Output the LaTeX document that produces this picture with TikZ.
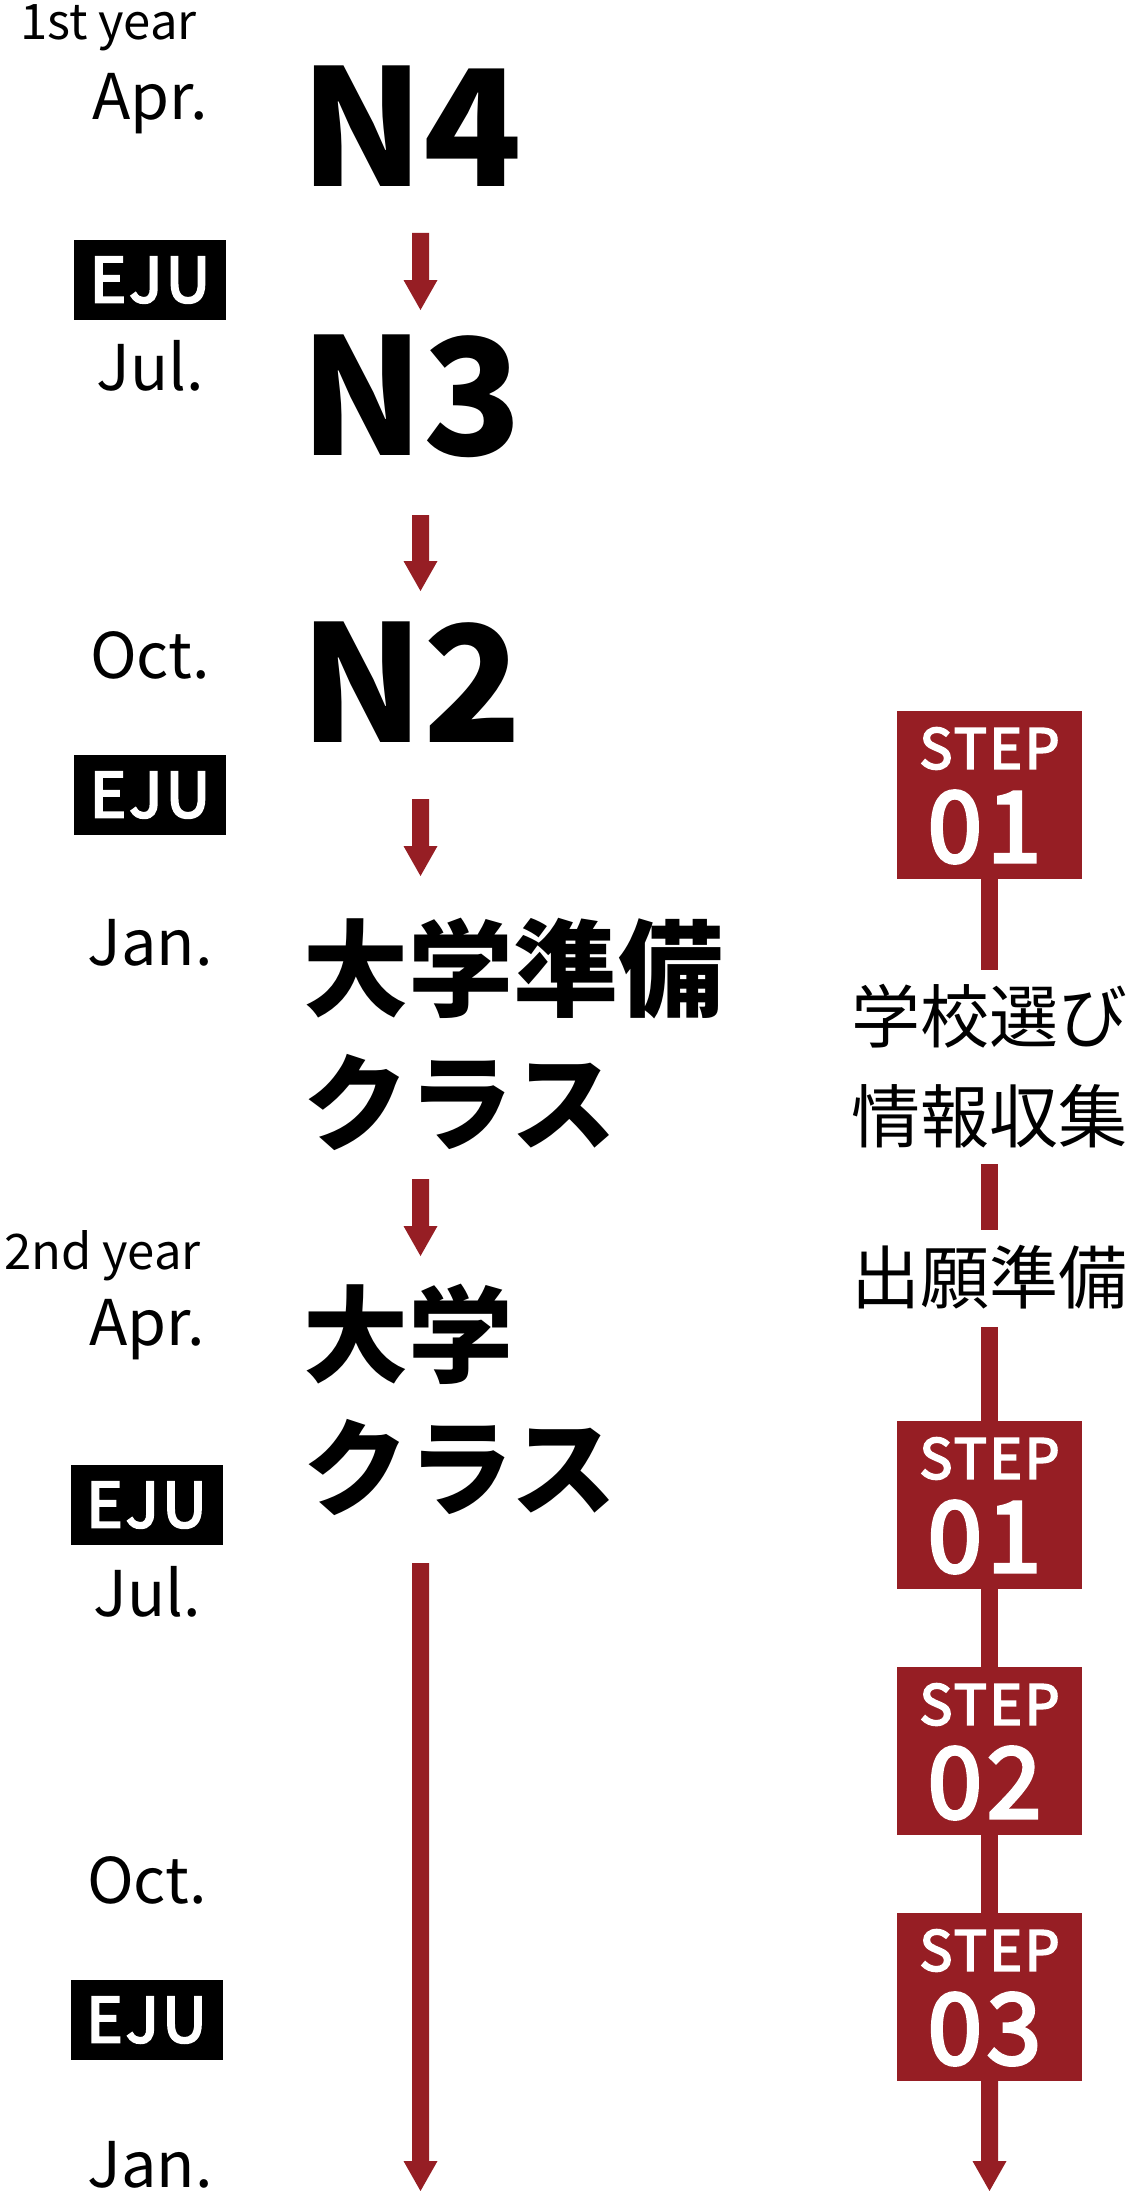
\documentclass[tikz,border=0pt]{standalone}
\usepackage{fontspec}
\setmainfont{Noto Sans CJK JP}
\newfontfamily\semifont{Noto Sans CJK JP}[FakeBold=3.5,LetterSpace=5]
\usetikzlibrary{calc}
\definecolor{brandred}{RGB}{150,30,36}
\tikzset{
 month/.style={anchor=base, inner sep=0pt, font=\fontsize{63}{63}\selectfont},
 yearlbl/.style={anchor=base east, inner sep=0pt, font=\fontsize{49}{49}\selectfont},
 ejubox/.style={fill=black, text=white, minimum width=152pt, minimum height=80pt, inner sep=0pt, font=\semifont\fontsize{62}{62}\selectfont},
 level/.style={anchor=west, inner sep=0pt, font=\bfseries\fontsize{162}{162}\selectfont},
 course/.style={anchor=west, inner sep=0pt, font=\bfseries\fontsize{105}{105}\selectfont},
 stepbox/.style={fill=brandred, minimum width=185pt, minimum height=168pt, inner sep=0pt},
 steplbl/.style={text=white, inner sep=0pt, font=\semifont\fontsize{55}{55}\selectfont},
 stepnum/.style={text=white, inner sep=0pt, font=\semifont\fontsize{98}{98}\selectfont},
 task/.style={inner sep=0pt, font=\fontsize{69}{69}\selectfont},
 vline/.style={draw=brandred, line width=17pt},
}
\newcommand{\redarrow}[2]{%
 \fill[brandred] ($(#1)+(-8.5,0)$) -- ($(#2)+(-8.5,-30)$) -- ($(#2)+(-17,-30)$) -- (#2)
   -- ($(#2)+(17,-30)$) -- ($(#2)+(8.5,-30)$) -- ($(#1)+(8.5,0)$) -- cycle;}
\begin{document}
\begin{tikzpicture}[x=1pt,y=-1pt]
\useasboundingbox[fill=white] (0,0) rectangle (1127,2191);
% year / month labels
\node[yearlbl] (y1) at (197,40) {1st year};
\node[month] (m1) at (150,120) {Apr.};
\node[ejubox] (e1) at (150,280) {EJU};
\node[month] (m2) at (150,390) {Jul.};
\node[month] (m3) at (150,678) {Oct.};
\node[ejubox] (e2) at (150,795) {EJU};
\node[month] (m4) at (150,965) {Jan.};
\node[yearlbl] (y2) at (201,1269) {2nd year};
\node[month] (m5) at (147,1345) {Apr.};
\node[ejubox] (e3) at (146.5,1505) {EJU};
\node[month] (m6) at (147,1616) {Jul.};
\node[month] (m7) at (147,1903) {Oct.};
\node[ejubox] (e4) at (146.5,2020) {EJU};
\node[month] (m8) at (150,2187) {Jan.};
% levels
\node[level] (n4) at (300,126.5) {N4};
\node[level] (n3) at (300,396.5) {N3};
\node[level] (n2) at (300,682.5) {N2};
\node[course] (c1) at (303,969) {大学準備};
\node[course] (c2) at (303,1102.5) {クラス};
\node[course] (c3) at (303,1334.5) {大学};
\node[course] (c4) at (303,1467.5) {クラス};
% left arrows
\coordinate (a1s) at (420.5,233);  \coordinate (a1t) at (420.5,310);
\coordinate (a2s) at (420.5,515);  \coordinate (a2t) at (420.5,591);
\coordinate (a3s) at (420.5,799);  \coordinate (a3t) at (420.5,876);
\coordinate (a4s) at (420.5,1179); \coordinate (a4t) at (420.5,1256);
\coordinate (a5s) at (420.5,1563); \coordinate (a5t) at (420.5,2191);
\redarrow{a1s}{a1t}
\redarrow{a2s}{a2t}
\redarrow{a3s}{a3t}
\redarrow{a4s}{a4t}
\redarrow{a5s}{a5t}
% right column
\node[stepbox] (s1) at (989.5,795) {};
\node[steplbl] (s1a) at ($(s1.center)+(0,-46.5)$) {STEP};
\node[stepnum] (s1b) at ($(s1.center)+(-5,32)$) {01};
\node[task] (t1) at (989.5,1016) {学校選び};
\node[task] (t2) at (989.5,1116.5) {情報収集};
\node[task] (t3) at (989.5,1277.5) {出願準備};
\node[stepbox] (s2) at (989.5,1505) {};
\node[steplbl] (s2a) at ($(s2.center)+(0,-46.5)$) {STEP};
\node[stepnum] (s2b) at ($(s2.center)+(-5,32)$) {01};
\node[stepbox] (s3) at (989.5,1751) {};
\node[steplbl] (s3a) at ($(s3.center)+(0,-46.5)$) {STEP};
\node[stepnum] (s3b) at ($(s3.center)+(-5,32)$) {02};
\node[stepbox] (s4) at (989.5,1997) {};
\node[steplbl] (s4a) at ($(s4.center)+(0,-46.5)$) {STEP};
\node[stepnum] (s4b) at ($(s4.center)+(-5,32)$) {03};
\coordinate (l1e) at (989.5,970);
\coordinate (l2s) at (989.5,1164); \coordinate (l2e) at (989.5,1230);
\coordinate (l3s) at (989.5,1327);
\coordinate (rtip) at (989.5,2191);
\draw[vline] (s1.south) -- (l1e);
\draw[vline] (l2s) -- (l2e);
\draw[vline] (l3s) -- (s2.north);
\draw[vline] (s2.south) -- (s3.north);
\draw[vline] (s3.south) -- (s4.north);
\redarrow{s4.south}{rtip}
\end{tikzpicture}
\end{document}
